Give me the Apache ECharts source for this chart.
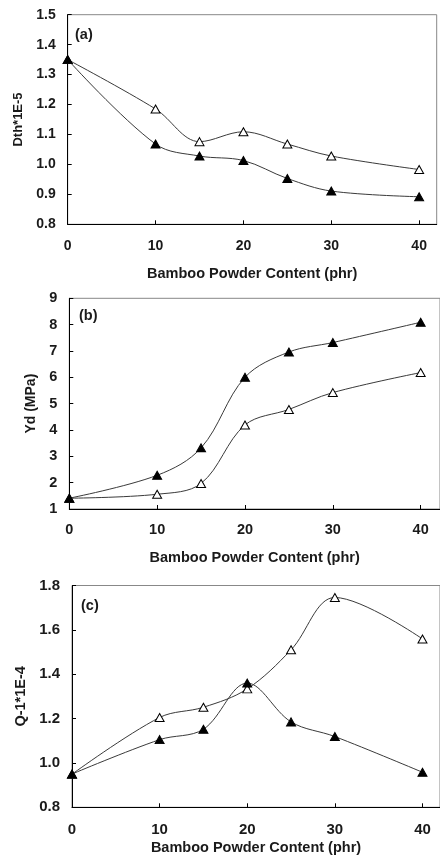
<!DOCTYPE html>
<html>
<head>
<meta charset="utf-8">
<script src="https://cdn.jsdelivr.net/npm/echarts@6/dist/echarts.min.js"></script>
<style>
    html, body { margin: 0; padding: 0; background: #fff; }
    #main { width: 440px; height: 867px; }
</style>
</head>
<body>
<div id="main"></div>
<script>
// bamboo powder content (phr)
var content = [0, 10, 15, 20, 25, 30, 40];
// (a) Dth*1E-5
var dthOpen = [1.35, 1.185, 1.076, 1.109, 1.068, 1.028, 0.983];
var dthFilled = [1.35, 1.068, 1.028, 1.013, 0.953, 0.911, 0.892];
// (b) Yd (MPa)
var ydFilled = [1.41, 2.28, 3.32, 6.0, 6.96, 7.32, 8.09];
var ydOpen = [1.41, 1.56, 1.97, 4.19, 4.78, 5.42, 6.18];
// (c) Q-1*1E-4
var qOpen = [0.949, 1.205, 1.251, 1.334, 1.51, 1.746, 1.559];
var qFilled = [0.95, 1.105, 1.152, 1.36, 1.185, 1.119, 0.958];

var panelLabels = ['(a)', '(b)', '(c)'];
var yNames = ['Dth*1E-5', 'Yd (MPa)', 'Q-1*1E-4'];
var xName = 'Bamboo Powder Content (phr)';

function pairs(ys) {
    return content.map(function (x, i) { return [x, ys[i]]; });
}

var textColor = '#1a1a1a';
var font = 'Liberation Sans, Arial, sans-serif';

function xAxis(idx, max, gap, nameGap, size) {
    return {
        type: 'value', gridIndex: idx, min: 0, max: max, interval: 10,
        name: xName, nameLocation: 'middle', nameGap: nameGap,
        nameTextStyle: { color: textColor, fontWeight: 'bold', fontSize: 14.5, fontFamily: font },
        axisLine: { lineStyle: { color: '#000', width: 1 } },
        axisTick: { inside: true, length: 4, lineStyle: { color: '#000' } },
        axisLabel: { showMaxLabel: false, margin: gap, color: textColor, fontWeight: 'bold', fontSize: size, fontFamily: font },
        splitLine: { show: false }
    };
}

function yAxis(idx, min, max, interval, digits, nameGap, size, nameSize) {
    return {
        type: 'value', gridIndex: idx, min: min, max: max, interval: interval,
        name: yNames[idx], nameLocation: 'middle', nameGap: nameGap,
        nameTextStyle: { color: textColor, fontWeight: 'bold', fontSize: nameSize, fontFamily: font },
        axisLine: { show: true, lineStyle: { color: '#000', width: 1 } },
        axisTick: { show: true, inside: true, length: 4, lineStyle: { color: '#000' } },
        axisLabel: {
            margin: 12, color: textColor, fontWeight: 'bold', fontSize: size, fontFamily: font,
            formatter: function (v) { return v.toFixed(digits); }
        },
        splitLine: { show: false }
    };
}

function line(idx, ys, filled) {
    return {
        type: 'line', xAxisIndex: idx, yAxisIndex: idx,
        data: pairs(ys), smooth: 0.35,
        symbol: 'triangle', symbolSize: [9, 8],
        lineStyle: { color: '#3a3a3a', width: 1 },
        itemStyle: filled ? { color: '#000', borderColor: '#000', borderWidth: 1 }
                          : { color: '#fff', borderColor: '#000', borderWidth: 1 },
        z: filled ? 3 : 2
    };
}

var myChart = echarts.init(document.getElementById('main'));
var option = {
    backgroundColor: '#fff',
    animation: false,
    title: [
        { text: panelLabels[0], left: 75, top: 27 },
        { text: panelLabels[1], left: 79, top: 308 },
        { text: panelLabels[2], left: 81, top: 598 }
    ].map(function (t) {
        t.padding = 0;
        t.textStyle = { color: textColor, fontWeight: 'bold', fontSize: 14.5, fontFamily: font };
        return t;
    }),
    grid: [
        { left: 67.7, top: 14.7, width: 369, height: 209.6 },
        { left: 69.3, top: 298.3, width: 380, height: 210.7 },
        { left: 72, top: 585.5, width: 378, height: 221.8 }
    ].map(function (g) {
        g.show = true;
        g.borderColor = '#888';
        g.borderWidth = 1;
        g.backgroundColor = 'transparent';
        return g;
    }),
    xAxis: [
        xAxis(0, 42, 15, 42, 14),
        xAxis(1, 42.2, 13, 41, 14.5),
        xAxis(2, 42, 15, 33, 15)
    ],
    yAxis: [
        yAxis(0, 0.8, 1.5, 0.1, 1, 40, 14, 13),
        yAxis(1, 1, 9, 1, 0, 27, 14.5, 14),
        yAxis(2, 0.8, 1.8, 0.2, 1, 42, 15, 14.5)
    ],
    series: [
        line(0, dthOpen, false),
        line(0, dthFilled, true),
        line(1, ydOpen, false),
        line(1, ydFilled, true),
        line(2, qOpen, false),
        line(2, qFilled, true)
    ]
};
myChart.setOption(option);
</script>
</body>
</html>
